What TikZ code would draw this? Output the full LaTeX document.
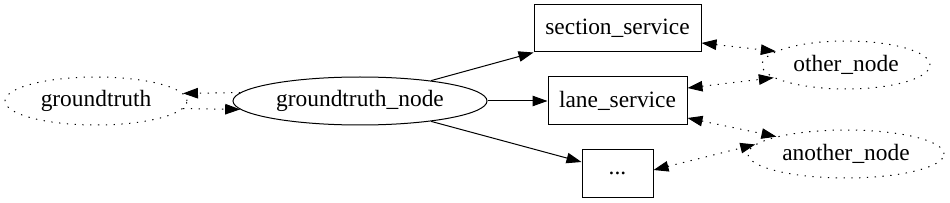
\documentclass[tikz,border=0pt]{standalone}
\usepackage{fontspec}
\setmainfont{Liberation Serif}
\usetikzlibrary{shapes.geometric,arrows.meta}
\begin{document}
\begin{tikzpicture}[x=1pt,y=-1pt,
  base/.style={draw,line width=1pt,inner sep=0pt,font=\fontsize{23.4}{28}\selectfont},
  ell/.style={base,ellipse},
  dotell/.style={ell,dash pattern=on 1.3pt off 6.5pt},
  box/.style={base,rectangle},
  conn/.style={line width=1pt,-{Triangle[length=15pt,width=10.5pt]}},
  dotconn/.style={line width=1pt,dash pattern=on 1.3pt off 6.5pt},
  dotone/.style={dotconn,-{Triangle[length=15pt,width=10.5pt]}},
  dotboth/.style={dotconn,{Triangle[length=15pt,width=10.5pt]}-{Triangle[length=15pt,width=10.5pt]}}]
\useasboundingbox (0,0) rectangle (950,203);
\node[dotell,minimum width=182pt,minimum height=48pt] (gt) at (96,101) {groundtruth};
\node[ell,minimum width=254pt,minimum height=48pt] (gtn) at (360,101) {groundtruth\_node};
\node[box,minimum width=167pt,minimum height=47pt] (ss) at (617.5,28.5) {section\_service};
\node[box,minimum width=139pt,minimum height=48pt] (ls) at (617.5,101) {lane\_service};
\node[box,minimum width=71pt,minimum height=48pt] (dots) at (617.5,173) {...};
\node[dotell,minimum width=168pt,minimum height=48pt] (on) at (846,65) {other\_node};
\node[dotell,minimum width=196pt,minimum height=48pt] (an) at (846,154) {another\_node};
% solid edges
\draw[conn] (gtn.16) -- (ss.south west);
\draw[conn] (gtn.east) -- (ls.west);
\draw[conn] (gtn.-16) -- ([yshift=11pt]dots.west);
% dotted edges gt <-> gtn
\draw[dotone] (gtn.176) -- (gt.5);
\draw[dotone] (gt.-5) -- (gtn.-176);
% dotted bidirectional
\draw[dotboth] ([yshift=-14.5pt]ss.east) -- (on.169.6);
\draw[dotboth] ([yshift=13pt]ls.east) -- (on.-170.4);
\draw[dotboth] ([yshift=-17pt]ls.east) -- (an.166);
\draw[dotboth] ([yshift=3pt]dots.east) -- (an.174.4);
\end{tikzpicture}
\end{document}
